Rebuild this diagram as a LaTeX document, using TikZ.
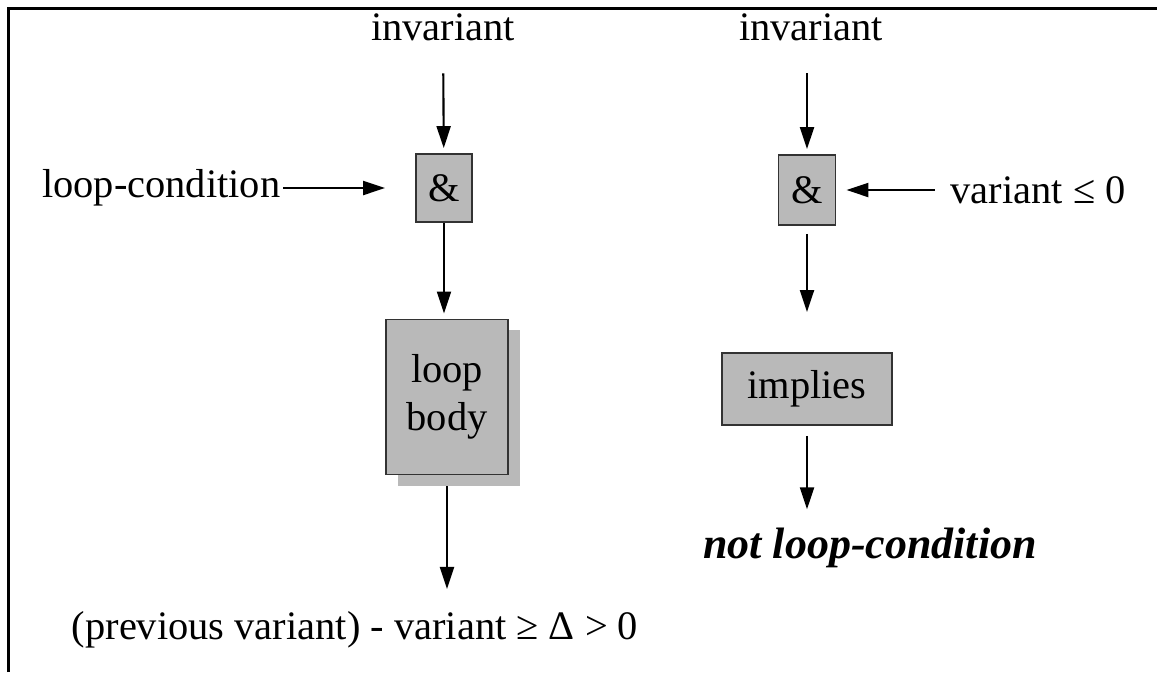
\documentclass[tikz,border=0pt]{standalone}
\usepackage{fontspec}
\setmainfont{Liberation Serif}
\usetikzlibrary{arrows.meta,shadows}

\begin{document}
\begin{tikzpicture}[x=0.01cm,y=-0.01cm,font=\fontsize{11.5}{13.5}\selectfont,
    txt/.style={inner sep=0pt},
    gbox/.style={draw=black!80,fill=gray!55,line width=0.5pt,inner sep=0pt,align=center},
    arr/.style={line width=0.6pt,-{Triangle[length=0.22cm,width=0.14cm]}}]
  \useasboundingbox (0,0) rectangle (1157,672);
  % frame, only its top and left edges are in the picture
  \draw[line width=0.035cm] (8.5,672) -- (8.5,8.5) -- (1157,8.5);
  % left half: one pass through the loop
  \node[txt] (inv1) at (443,27) {invariant};
  \node[gbox,minimum width=0.56cm,minimum height=0.68cm] (and1) at (444,188) {\&};
  \node[txt,anchor=east] (lcond) at (281,188) {loop-condition};
  \node[gbox,minimum width=1.22cm,minimum height=1.55cm,
        drop shadow={shadow xshift=0.12cm,shadow yshift=-0.11cm,fill=gray!55,opacity=1}]
        (body) at (447,397) {loop\\body};
  \node[txt] (post1) at (355,630) {(previous variant) - variant ≥ Δ > 0};
  \draw[arr,shorten <=0.32cm,shorten >=0.05cm] (inv1) -- (and1);
  \draw[arr,shorten <=0.02cm,shorten >=0.3cm] (lcond) -- (and1);
  \draw[arr,shorten >=0.05cm] (and1) -- (and1 |- body.north);
  \draw[arr,shorten <=0.11cm,shorten >=0.22cm] (body.south) -- (body.south |- post1.north);
  % right half: leaving the loop
  \node[txt] (inv2) at (811,27) {invariant};
  \node[gbox,minimum width=0.57cm,minimum height=0.7cm] (and2) at (807,190) {\&};
  \node[txt,anchor=west] (vcond) at (950,190) {variant ≤ 0};
  \node[gbox,minimum width=1.7cm,minimum height=0.72cm] (implies) at (807,389) {implies};
  \node[txt,font=\fontsize{12.5}{14}\selectfont\bfseries\itshape] (post2) at (870,548) {not loop-condition};
  \draw[arr,shorten <=0.32cm,shorten >=0.05cm] (inv2.south -| and2) -- (and2);
  \draw[arr,shorten <=0.15cm,shorten >=0.1cm] (vcond) -- (and2);
  \draw[arr,shorten <=0.08cm,shorten >=0.4cm] (and2) -- (implies);
  \draw[arr,shorten <=0.1cm,shorten >=0.18cm] (implies.south) -- (implies.south |- post2.north);
\end{tikzpicture}
\end{document}
